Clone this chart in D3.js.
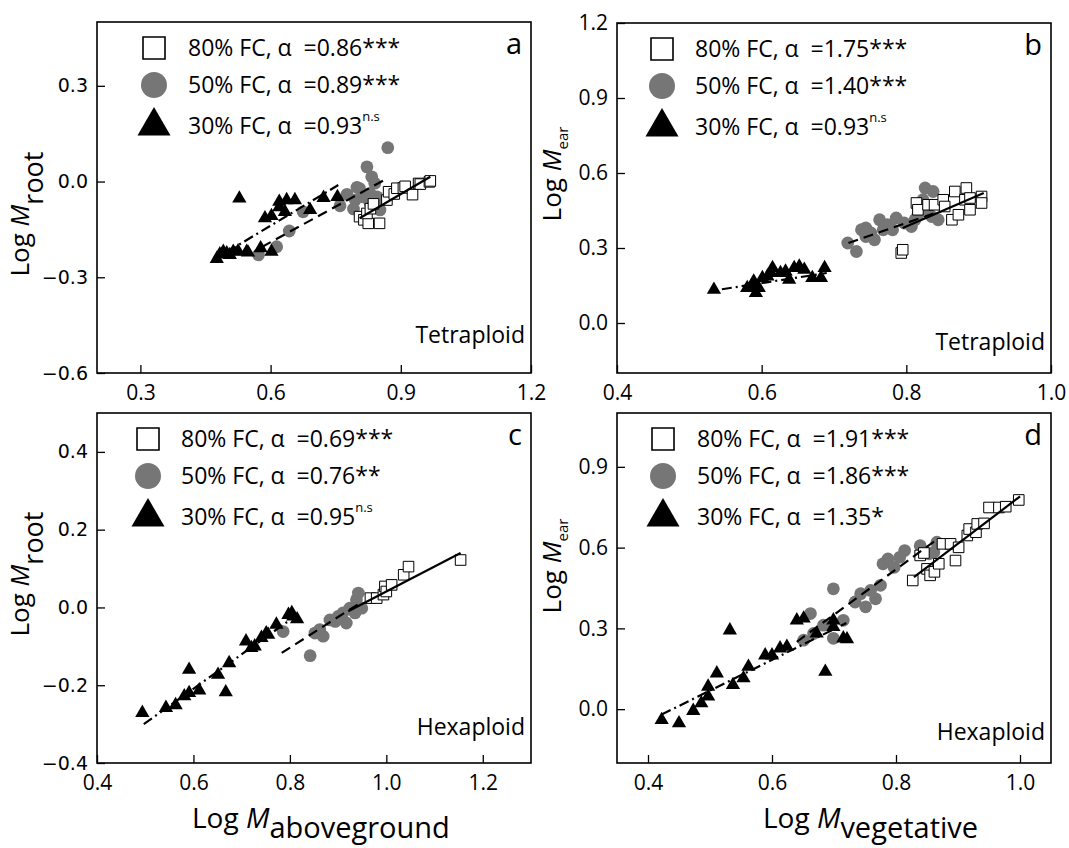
<!DOCTYPE html>
<html>
<head>
<meta charset="utf-8">
<script src="https://cdn.jsdelivr.net/npm/d3@7"></script>
<style>
  body { margin: 0; background: #fff; }
  svg { display: block; }
</style>
</head>
<body>
<svg id="chart" width="1069" height="848"></svg>
<script>
// ---- data ----
const treatments = ["80% FC", "50% FC", "30% FC"];

// panel a: tetraploid, root vs aboveground
const a80 = [[0.805,-0.110],[0.815,-0.120],[0.825,-0.131],[0.851,-0.131],[0.822,-0.100],[0.830,-0.085],[0.837,-0.070],[0.868,-0.058],[0.872,-0.032],[0.885,-0.039],[0.891,-0.021],[0.906,-0.020],[0.910,-0.015],[0.927,-0.041],[0.941,-0.006],[0.945,-0.008],[0.966,-0.001],[0.968,0.002]];
const a50 = [[0.572,-0.230],[0.614,-0.204],[0.643,-0.155],[0.675,-0.095],[0.760,-0.076],[0.776,-0.040],[0.791,-0.086],[0.795,-0.058],[0.799,-0.018],[0.805,-0.022],[0.814,-0.048],[0.822,0.046],[0.829,-0.037],[0.829,-0.068],[0.833,0.015],[0.840,-0.005],[0.845,-0.048],[0.849,-0.058],[0.852,-0.089],[0.870,0.106]];
const a30 = [[0.476,-0.242],[0.483,-0.228],[0.491,-0.220],[0.499,-0.225],[0.506,-0.230],[0.514,-0.220],[0.525,-0.218],[0.528,-0.053],[0.545,-0.220],[0.548,-0.222],[0.577,-0.209],[0.602,-0.220],[0.587,-0.115],[0.602,-0.108],[0.620,-0.063],[0.620,-0.080],[0.633,-0.095],[0.637,-0.058],[0.656,-0.058],[0.691,-0.089],[0.722,-0.051],[0.754,-0.048]];
const aFit80 = [[0.805,-0.115],[0.968,0.015]];
const aFit50 = [[0.580,-0.205],[0.870,0.011]];
const aFit30 = [[0.500,-0.220],[0.756,-0.011]];
const aAlpha = ["0.86", "0.89", "0.93"];
const aSig = ["***", "***", "n.s"];

// panel b: tetraploid, ear vs vegetative
const b80 = [[0.793,0.280],[0.795,0.293],[0.814,0.480],[0.816,0.453],[0.830,0.473],[0.839,0.473],[0.851,0.493],[0.853,0.466],[0.863,0.413],[0.867,0.526],[0.872,0.433],[0.881,0.493],[0.883,0.540],[0.888,0.453],[0.888,0.500],[0.904,0.506],[0.904,0.480]];
const b50 = [[0.719,0.320],[0.731,0.286],[0.738,0.373],[0.744,0.380],[0.744,0.346],[0.751,0.360],[0.756,0.333],[0.763,0.413],[0.768,0.373],[0.774,0.393],[0.781,0.373],[0.786,0.420],[0.797,0.400],[0.807,0.386],[0.812,0.413],[0.816,0.433],[0.823,0.493],[0.826,0.540],[0.830,0.453],[0.835,0.426],[0.837,0.526],[0.844,0.413]];
const b30 = [[0.534,0.133],[0.580,0.140],[0.585,0.140],[0.589,0.160],[0.589,0.166],[0.592,0.120],[0.596,0.140],[0.601,0.180],[0.608,0.186],[0.613,0.200],[0.615,0.220],[0.626,0.200],[0.633,0.206],[0.638,0.173],[0.645,0.220],[0.652,0.226],[0.659,0.213],[0.670,0.180],[0.682,0.180],[0.687,0.220]];
const bFit80 = [[0.795,0.380],[0.907,0.520]];
const bFit50 = [[0.720,0.320],[0.840,0.440]];
const bFit30 = [[0.545,0.135],[0.690,0.200]];
const bAlpha = ["1.75", "1.40", "0.93"];
const bSig = ["***", "***", "n.s"];

// panel c: hexaploid, root vs aboveground
const c80 = [[0.967,0.024],[0.980,0.024],[0.994,0.033],[0.997,0.054],[1.000,0.041],[1.011,0.058],[1.036,0.084],[1.046,0.105],[1.154,0.122]];
const c50 = [[0.786,-0.062],[0.842,-0.124],[0.852,-0.066],[0.862,-0.057],[0.869,-0.074],[0.883,-0.032],[0.894,-0.036],[0.900,-0.023],[0.910,-0.014],[0.917,-0.040],[0.924,-0.002],[0.935,-0.014],[0.938,0.020],[0.942,0.037],[0.949,-0.002]];
const c30 = [[0.494,-0.271],[0.543,-0.258],[0.563,-0.251],[0.581,-0.228],[0.591,-0.220],[0.591,-0.160],[0.612,-0.213],[0.651,-0.173],[0.667,-0.218],[0.674,-0.143],[0.709,-0.087],[0.720,-0.104],[0.727,-0.100],[0.741,-0.078],[0.751,-0.066],[0.755,-0.070],[0.772,-0.044],[0.797,-0.019],[0.804,-0.014],[0.807,-0.023],[0.815,-0.030]];
const cFit80 = [[0.921,-0.010],[1.154,0.140]];
const cFit50 = [[0.783,-0.117],[0.945,0.011]];
const cFit30 = [[0.497,-0.300],[0.806,-0.027]];
const cAlpha = ["0.69", "0.76", "0.95"];
const cSig = ["***", "**", "n.s"];

// panel d: hexaploid, ear vs vegetative
const d80 = [[0.827,0.478],[0.839,0.571],[0.845,0.580],[0.850,0.521],[0.855,0.497],[0.862,0.510],[0.869,0.540],[0.875,0.614],[0.888,0.614],[0.896,0.552],[0.901,0.601],[0.915,0.645],[0.918,0.669],[0.929,0.657],[0.931,0.688],[0.942,0.690],[0.950,0.749],[0.966,0.749],[0.977,0.752],[0.998,0.777]];
const d50 = [[0.651,0.256],[0.662,0.355],[0.667,0.281],[0.683,0.312],[0.699,0.447],[0.699,0.263],[0.715,0.330],[0.734,0.398],[0.743,0.429],[0.751,0.380],[0.759,0.441],[0.767,0.410],[0.775,0.460],[0.779,0.540],[0.787,0.558],[0.797,0.527],[0.806,0.564],[0.814,0.589],[0.839,0.607],[0.853,0.577],[0.861,0.583],[0.866,0.620]];
const d30 = [[0.422,-0.040],[0.450,-0.052],[0.473,-0.006],[0.486,0.022],[0.497,0.047],[0.497,0.084],[0.511,0.133],[0.532,0.293],[0.537,0.090],[0.554,0.115],[0.562,0.158],[0.589,0.200],[0.600,0.200],[0.613,0.226],[0.624,0.232],[0.640,0.330],[0.651,0.337],[0.672,0.281],[0.686,0.139],[0.699,0.306],[0.699,0.330],[0.715,0.263],[0.721,0.260]];
const dFit80 = [[0.829,0.490],[1.000,0.790]];
const dFit50 = [[0.640,0.250],[0.864,0.627]];
const dFit30 = [[0.422,-0.020],[0.720,0.320]];
const dAlpha = ["1.91", "1.86", "1.35"];
const dSig = ["***", "***", "*"];

// ---- layout ----
const panels = [
  { letter: "a", box: [97, 22, 531, 373], x: [0.2, 1.2], y: [-0.6, 0.5],
    xt: [0.3, 0.6, 0.9, 1.2], yt: [-0.6, -0.3, 0.0, 0.3], yFont: "DejaVu Sans", ySize: 19,
    series: [a80, a50, a30], fits: [aFit80, aFit50, aFit30], alpha: aAlpha, sig: aSig,
    ploidy: "Tetraploid", ploidyDy: -30, leg: [57, 91],
    title: { x: 29, y: 214, sub: "root", subSize: 27, subDy: 14 } },
  { letter: "b", box: [617, 23, 1051, 373], x: [0.4, 1.0], y: [-0.2, 1.2],
    xt: [0.4, 0.6, 0.8, 1.0], yt: [0.0, 0.3, 0.6, 0.9, 1.2], yFont: "Open Sans", ySize: 21,
    series: [b80, b50, b30], fits: [bFit80, bFit50, bFit30], alpha: bAlpha, sig: bSig,
    ploidy: "Tetraploid", ploidyDy: -23, leg: [45, 78],
    title: { x: 561, y: 174, sub: "ear", subSize: 15, subDy: 7 } },
  { letter: "c", box: [97, 413, 531, 763], x: [0.4, 1.3], y: [-0.4, 0.5],
    xt: [0.4, 0.6, 0.8, 1.0, 1.2], yt: [-0.4, -0.2, 0.0, 0.2, 0.4], yFont: "DejaVu Sans", ySize: 19,
    series: [c80, c50, c30], fits: [cFit80, cFit50, cFit30], alpha: cAlpha, sig: cSig,
    ploidy: "Hexaploid", ploidyDy: -28, leg: [51, 84],
    title: { x: 29, y: 574, sub: "root", subSize: 27, subDy: 14 } },
  { letter: "d", box: [617, 413, 1051, 763], x: [0.35, 1.05], y: [-0.2, 1.1],
    xt: [0.4, 0.6, 0.8, 1.0], yt: [0.0, 0.3, 0.6, 0.9], yFont: "Open Sans", ySize: 21,
    series: [d80, d50, d30], fits: [dFit80, dFit50, dFit30], alpha: dAlpha, sig: dSig,
    ploidy: "Hexaploid", ploidyDy: -23, leg: [46, 80],
    title: { x: 561, y: 566, sub: "ear", subSize: 15, subDy: 7 } }
];

const gray = "#767676";
const fitDash = [null, "10,6", "10,4,2,4"];
const legendRows = [26, 63, 104];

const svg = d3.select("#chart");

function marker (sel, kind, big) {
  if (kind === 0) {
    sel.append("path")
      .attr("d", d3.symbol(d3.symbolSquare, big ? 484 : 112)())
      .attr("fill", "#fff").attr("stroke", "#000")
      .attr("stroke-width", big ? 1.6 : 1);
  } else if (kind === 1) {
    sel.append("path")
      .attr("d", d3.symbol(d3.symbolCircle, big ? 531 : 128)())
      .attr("fill", gray);
  } else {
    sel.append("path")
      .attr("d", d3.symbol(d3.symbolTriangle, big ? 472 : 88)())
      .attr("fill", "#000");
  }
}

panels.forEach(p => {
  const [x0, y0, x1, y1] = p.box;
  const xs = d3.scaleLinear().domain(p.x).range([x0, x1]);
  const ys = d3.scaleLinear().domain(p.y).range([y1, y0]);
  const g = svg.append("g");

  // axes with inward ticks
  const fmt = d3.format(".1f");
  const yAxis = g.append("g")
    .attr("transform", `translate(${x0},0)`)
    .call(d3.axisLeft(ys).tickValues(p.yt).tickFormat(fmt).tickSizeInner(-8).tickSizeOuter(0).tickPadding(9));
  yAxis.select(".domain").remove();
  yAxis.selectAll("line").attr("stroke", "#000").attr("stroke-width", 1.3);
  yAxis.selectAll("text").attr("font-family", p.yFont).attr("font-size", p.ySize).attr("fill", "#000");

  const xAxis = g.append("g")
    .attr("transform", `translate(0,${y1})`)
    .call(d3.axisBottom(xs).tickValues(p.xt).tickFormat(fmt).tickSizeInner(-8).tickSizeOuter(0).tickPadding(12));
  xAxis.select(".domain").remove();
  xAxis.selectAll("line").attr("stroke", "#000").attr("stroke-width", 1.3);
  xAxis.selectAll("text").attr("font-family", "Open Sans").attr("font-size", 21).attr("fill", "#000");

  // points: circles, squares, triangles
  [1, 0, 2].forEach(k => {
    g.append("g").selectAll("g")
      .data(p.series[k])
      .join("g")
        .attr("transform", d => `translate(${xs(d[0])},${ys(d[1])})`)
        .each(function () { marker(d3.select(this), k, false); });
  });

  // fitted lines
  const line = d3.line().x(d => xs(d[0])).y(d => ys(d[1]));
  p.fits.forEach((f, k) => {
    g.append("path")
      .attr("d", line(f))
      .attr("fill", "none")
      .attr("stroke", "#000")
      .attr("stroke-width", 2.2)
      .attr("stroke-dasharray", fitDash[k]);
  });

  // frame
  g.append("rect")
    .attr("x", x0).attr("y", y0)
    .attr("width", x1 - x0).attr("height", y1 - y0)
    .attr("fill", "none").attr("stroke", "#000").attr("stroke-width", 1.6);

  // legend
  treatments.forEach((t, k) => {
    const cy = y0 + legendRows[k];
    const m = g.append("g").attr("transform", `translate(${x0 + p.leg[0]},${cy})`);
    marker(m, k, true);
    const txt = g.append("text")
      .attr("x", x0 + p.leg[1]).attr("y", cy + 8)
      .attr("font-family", "Open Sans").attr("font-size", 23).attr("fill", "#000");
    // double gap before "=" as in the original
    const base = `${t}, α\u00a0\u00a0=${p.alpha[k]}`;
    if (p.sig[k] === "n.s") {
      txt.text(base);
      txt.append("tspan").attr("font-size", 13).attr("dy", -13).text("n.s");
    } else {
      txt.text(base + p.sig[k]);
    }
  });

  // panel letter and ploidy
  g.append("text")
    .attr("x", x1 - 9).attr("y", y0 + 32)
    .attr("text-anchor", "end")
    .attr("font-family", "Open Sans").attr("font-size", 29).attr("fill", "#000")
    .text(p.letter);
  g.append("text")
    .attr("x", x1 - 6).attr("y", y1 + p.ploidyDy)
    .attr("text-anchor", "end")
    .attr("font-family", "Open Sans").attr("font-size", 23).attr("fill", "#000")
    .text(p.ploidy);

  // y title
  const yt = g.append("text")
    .attr("transform", `translate(${p.title.x},${p.title.y}) rotate(-90)`)
    .attr("text-anchor", "middle")
    .attr("font-family", "Open Sans").attr("font-size", 26).attr("fill", "#000");
  yt.append("tspan").text("Log ");
  yt.append("tspan").attr("font-style", "italic").text("M");
  yt.append("tspan").attr("font-size", p.title.subSize).attr("dy", p.title.subDy).text(p.title.sub);
});

// x titles under the bottom panels
const xTitles = [
  { x: 192, sub: "aboveground" },
  { x: 763, sub: "vegetative" }
];
xTitles.forEach(t => {
  const xt = svg.append("text")
    .attr("x", t.x).attr("y", 828)
    .attr("font-family", "Open Sans").attr("font-size", 28).attr("fill", "#000");
  xt.append("tspan").text("Log ");
  xt.append("tspan").attr("font-style", "italic").text("M");
  xt.append("tspan").attr("font-size", 29).attr("dy", 10).text(t.sub);
});
</script>
</body>
</html>
